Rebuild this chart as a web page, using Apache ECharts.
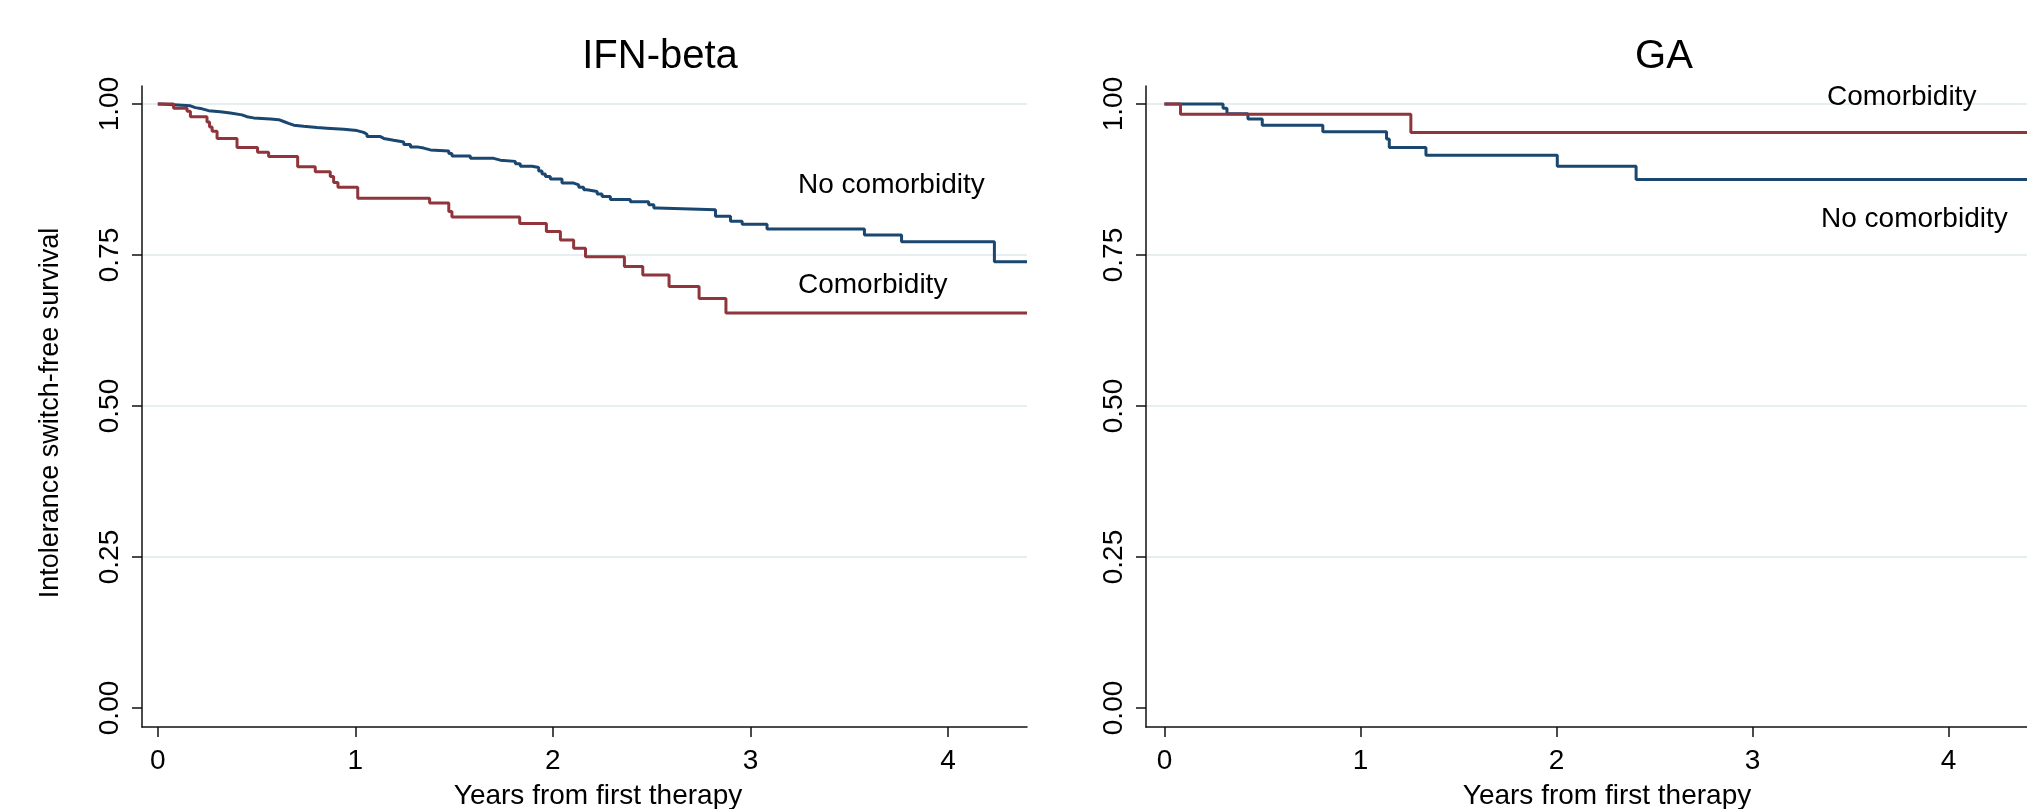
<!DOCTYPE html>
<html>
<head>
<meta charset="utf-8">
<title>Intolerance switch-free survival</title>
<script src="https://cdn.jsdelivr.net/npm/echarts@6/dist/echarts.min.js"></script>
<style>
  html, body { margin: 0; padding: 0; background: #fff; }
  #chart { width: 2027px; height: 809px; }
</style>
</head>
<body>
<div id="chart"></div>
<script>
// Kaplan-Meier steps: time in years, survival after the step
var ifnNoComorbTime = [0, 0.016, 0.165, 0.190, 0.224, 0.257, 0.316, 0.367, 0.426, 0.451, 0.485, 0.570, 0.612,
    0.637, 0.662, 0.688, 0.738, 0.806, 0.856, 0.941, 1.008, 1.042, 1.059, 1.127, 1.144, 1.194, 1.245, 1.279,
    1.312, 1.346, 1.380, 1.473, 1.489, 1.582, 1.700, 1.734, 1.810, 1.835, 1.895, 1.928, 1.945, 1.962, 1.987,
    2.046, 2.105, 2.131, 2.156, 2.173, 2.224, 2.249, 2.291, 2.392, 2.485, 2.511, 2.528, 2.823, 2.899, 2.958,
    3.084, 3.577, 3.765, 4.235, 4.4];
var ifnNoComorbSurv = [1, 0.997, 0.994, 0.992, 0.989, 0.987, 0.985, 0.982, 0.979, 0.977, 0.975, 0.974, 0.971,
    0.968, 0.965, 0.963, 0.961, 0.960, 0.958, 0.956, 0.953, 0.950, 0.946, 0.943, 0.940, 0.937, 0.933, 0.929,
    0.927, 0.924, 0.922, 0.918, 0.914, 0.910, 0.907, 0.905, 0.901, 0.897, 0.895, 0.889, 0.884, 0.880, 0.876,
    0.869, 0.866, 0.862, 0.858, 0.855, 0.851, 0.847, 0.842, 0.838, 0.833, 0.828, 0.825, 0.814, 0.806, 0.801,
    0.793, 0.783, 0.772, 0.739, 0.739];

var ifnComorbTime = [0, 0.080, 0.148, 0.165, 0.249, 0.262, 0.275, 0.300, 0.401, 0.505, 0.561, 0.708, 0.797,
    0.873, 0.890, 0.912, 1.012, 1.376, 1.473, 1.489, 1.832, 1.967, 2.038, 2.105, 2.165, 2.362, 2.455, 2.588,
    2.740, 2.876, 4.4];
var ifnComorbSurv = [1, 0.993, 0.988, 0.979, 0.970, 0.962, 0.955, 0.943, 0.928, 0.920, 0.913, 0.896, 0.888,
    0.880, 0.870, 0.862, 0.844, 0.836, 0.822, 0.813, 0.802, 0.789, 0.775, 0.761, 0.747, 0.731, 0.717, 0.698,
    0.678, 0.654, 0.654];

var gaNoComorbTime = [0, 0.299, 0.319, 0.426, 0.499, 0.808, 1.133, 1.147, 1.334, 2.004, 2.406, 4.4];
var gaNoComorbSurv = [1, 0.993, 0.984, 0.975, 0.965, 0.954, 0.942, 0.928, 0.915, 0.897, 0.875, 0.875];

var gaComorbTime = [0, 0.082, 1.257, 4.4];
var gaComorbSurv = [1, 0.983, 0.953, 0.953];

var panelTitles = ['IFN-beta', 'GA'];
var xTicks = [0, 1, 2, 3, 4];
var yTicks = [0, 0.25, 0.5, 0.75, 1];

var navy = '#1a476f';
var maroon = '#90353b';
var font = 'Arial, "Liberation Sans", sans-serif';

function pairs(t, s) {
    var out = [];
    for (var i = 0; i < t.length; i++) {
        out.push([t[i], s[i]]);
    }
    return out;
}

function makeX(idx, min) {
    return {
        type: 'value', gridIndex: idx, min: min, max: 4.4,
        axisLine: { show: true, onZero: false, lineStyle: { color: '#111', width: 1.5 } },
        axisTick: { show: true, length: 10, customValues: xTicks, lineStyle: { color: '#111', width: 1.5 } },
        axisLabel: { customValues: xTicks, margin: 20, fontSize: 28, color: '#000', fontFamily: font },
        splitLine: { show: false }
    };
}

function makeY(idx) {
    return {
        type: 'value', gridIndex: idx, min: -0.0315, max: 1.0298,
        axisLine: { show: true, onZero: false, lineStyle: { color: '#111', width: 1.5 } },
        axisTick: { show: true, length: 10, customValues: yTicks, lineStyle: { color: '#111', width: 1.5 } },
        axisLabel: {
            customValues: yTicks, rotate: 90, margin: 18, fontSize: 28, color: '#000', fontFamily: font,
            formatter: function(v) { return v.toFixed(2); }
        },
        splitLine: { show: true, showMinLine: false, lineStyle: { color: '#e6eef0', width: 2 } }
    };
}

function stepSeries(name, idx, t, s, color) {
    return {
        name: name, type: 'line', step: 'end', xAxisIndex: idx, yAxisIndex: idx,
        data: pairs(t, s), symbol: 'none', silent: true,
        lineStyle: { color: color, width: 3 }
    };
}

function textEl(str, x, y, size, align, rot) {
    return {
        type: 'text', x: x, y: y, rotation: rot || 0, z: 100, zlevel: 1,
        style: { text: str, fontSize: size, fontFamily: font, fill: '#000', align: align, verticalAlign: 'middle' }
    };
}

var myChart = echarts.init(document.getElementById('chart'), null, { renderer: 'canvas' });

myChart.setOption({
    backgroundColor: '#fff',
    animation: false,
    grid: [
        { left: 142, top: 86, width: 885, height: 641 },
        { left: 1146, top: 86, width: 883, height: 641 }
    ],
    xAxis: [makeX(0, -0.08), makeX(1, -0.094)],
    yAxis: [makeY(0), makeY(1)],
    series: [
        stepSeries('No comorbidity', 0, ifnNoComorbTime, ifnNoComorbSurv, navy),
        stepSeries('Comorbidity', 0, ifnComorbTime, ifnComorbSurv, maroon),
        stepSeries('No comorbidity', 1, gaNoComorbTime, gaNoComorbSurv, navy),
        stepSeries('Comorbidity', 1, gaComorbTime, gaComorbSurv, maroon)
    ],
    graphic: [
        textEl(panelTitles[0], 660, 57, 40, 'center'),
        textEl(panelTitles[1], 1664, 57, 40, 'center'),
        textEl('Intolerance switch-free survival', 51, 413, 27, 'center', Math.PI / 2),
        textEl('Years from first therapy', 598, 796, 28, 'center'),
        textEl('Years from first therapy', 1607, 796, 28, 'center'),
        textEl('No comorbidity', 798, 185, 28, 'left'),
        textEl('Comorbidity', 798, 285, 28, 'left'),
        textEl('Comorbidity', 1827, 97, 28, 'left'),
        textEl('No comorbidity', 1821, 219, 28, 'left')
    ]
});
</script>
</body>
</html>
